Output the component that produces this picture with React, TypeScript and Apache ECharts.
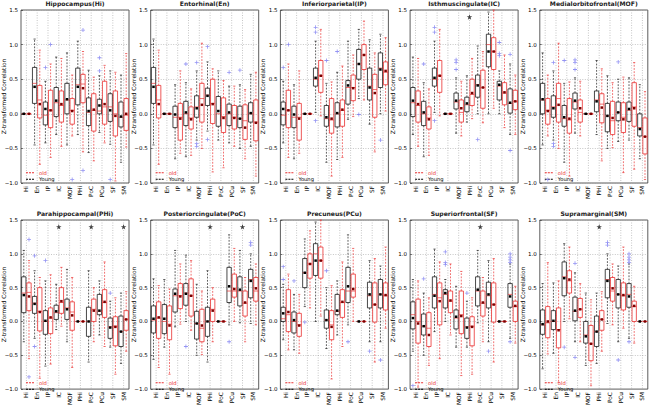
import React, { useEffect, useRef } from 'react';
import * as echarts from 'echarts';

// ---------------- data ----------------
const REGIONS = ['Hi', 'En', 'IP', 'IC', 'MOF', 'PHi', 'PoC', 'PCu', 'SF', 'SM'];
const TITLES = [
  'Hippocampus(Hi)', 'Entorhinal(En)', 'Inferiorparietal(IP)', 'Isthmuscingulate(IC)',
  'Medialorbitofrontal(MOF)', 'Parahippocampal(PHi)', 'Posteriorcingulate(PoC)',
  'Precuneus(PCu)', 'Superiorfrontal(SF)', 'Supramarginal(SM)',
];
const Y_TICK_LABELS = ['−1.0', '−0.5', '0.0', '0.5', '1.0', '1.5'];
const GROUP_NAMES = ['Young', 'old'];

// Upper-triangle pair statistics: [lowWhisker, q1, median, q3, highWhisker, mean]
// Row X lists X versus every region after it in REGIONS.
const HI_YOUNG = [
  [-0.45, 0.15, 0.44, 0.67, 1.08, 0.39], [-0.42, -0.16, -0.02, 0.17, 0.47, 0.07],
  [-0.3, -0.04, 0.16, 0.38, 0.82, 0.19], [-0.45, 0.0, 0.2, 0.44, 0.88, 0.21],
  [-0.3, 0.13, 0.42, 0.66, 1.05, 0.39], [-0.56, -0.17, 0.02, 0.23, 0.63, 0.04],
  [-0.27, 0.0, 0.04, 0.21, 0.55, 0.12], [-0.44, -0.11, 0.1, 0.29, 0.62, 0.05],
  [-0.7, -0.19, -0.05, 0.17, 0.56, -0.04],
];
const HI_OLD = [
  [-0.73, -0.06, 0.2, 0.41, 0.92, 0.14], [-0.63, -0.2, 0.05, 0.34, 0.72, 0.05],
  [-0.47, -0.12, 0.12, 0.33, 0.8, 0.14], [-0.32, -0.15, 0.05, 0.22, 0.56, 0.04],
  [-0.55, 0.16, 0.43, 0.57, 0.9, 0.37], [-0.68, -0.25, 0.05, 0.29, 0.53, 0.06],
  [-0.42, -0.15, 0.1, 0.47, 0.7, 0.14], [-0.97, -0.32, 0.0, 0.33, 0.6, -0.03],
  [-0.48, -0.24, -0.02, 0.22, 0.87, 0.0],
];
const EN_YOUNG = [
  [-0.65, -0.2, -0.05, 0.11, 0.42, -0.01], [-0.62, -0.17, 0.0, 0.18, 0.45, 0.02],
  [-0.38, -0.05, 0.1, 0.26, 0.62, 0.08], [-0.25, 0.12, 0.27, 0.37, 0.75, 0.26],
  [-0.38, -0.18, 0.0, 0.25, 0.62, 0.04], [-0.42, -0.17, 0.0, 0.14, 0.4, 0.02],
  [-0.5, -0.2, -0.07, 0.11, 0.42, -0.07], [-0.47, -0.12, 0.0, 0.16, 0.57, 0.01],
];
const EN_OLD = [
  [-0.57, -0.38, -0.05, 0.15, 0.62, -0.07], [-0.6, -0.22, -0.06, 0.1, 0.36, -0.08],
  [-0.5, -0.12, 0.22, 0.44, 1.02, 0.13], [-0.84, -0.14, 0.15, 0.5, 0.65, 0.14],
  [-0.78, -0.27, -0.04, 0.23, 0.48, -0.06], [-0.47, -0.22, -0.05, 0.12, 0.4, -0.06],
  [-0.65, -0.37, -0.1, 0.13, 0.35, -0.2], [-0.9, -0.39, -0.12, 0.2, 0.6, -0.13],
];
const IP_YOUNG = [
  [0.02, 0.4, 0.5, 0.66, 1.05, 0.52], [-0.7, -0.18, -0.07, 0.12, 0.44, -0.05],
  [-0.66, -0.19, 0.0, 0.16, 0.6, 0.01], [-0.08, 0.14, 0.38, 0.48, 1.05, 0.41],
  [0.22, 0.5, 0.72, 0.93, 1.22, 0.72], [-0.15, 0.2, 0.4, 0.66, 1.07, 0.38],
  [0.0, 0.38, 0.66, 0.88, 1.15, 0.64],
];
const IP_OLD = [
  [-0.03, 0.31, 0.55, 0.77, 1.22, 0.55], [-0.9, -0.28, -0.09, 0.22, 0.46, -0.07],
  [-0.63, -0.18, 0.05, 0.2, 0.69, 0.06], [-0.04, 0.19, 0.38, 0.56, 0.85, 0.37],
  [0.2, 0.64, 0.85, 1.0, 1.34, 0.85], [-0.55, -0.05, 0.35, 0.57, 0.88, 0.3],
  [0.04, 0.42, 0.6, 0.75, 1.1, 0.62],
];
const IC_YOUNG = [
  [-0.28, 0.07, 0.17, 0.3, 0.52, 0.19], [-0.12, 0.03, 0.13, 0.24, 0.55, 0.15],
  [0.0, 0.24, 0.42, 0.56, 0.98, 0.41], [0.0, 0.68, 1.0, 1.15, 1.47, 0.9],
  [0.0, 0.2, 0.4, 0.47, 0.62, 0.42], [-0.3, 0.01, 0.15, 0.36, 0.72, 0.16],
];
const IC_OLD = [
  [-0.32, -0.12, 0.02, 0.2, 0.47, 0.08], [-0.07, 0.12, 0.28, 0.5, 0.8, 0.3],
  [-0.13, 0.08, 0.38, 0.63, 0.9, 0.38], [0.08, 0.64, 0.9, 1.1, 1.5, 0.9],
  [-0.2, 0.13, 0.3, 0.45, 0.85, 0.31], [-0.3, 0.06, 0.18, 0.34, 0.56, 0.18],
];
const MOF_YOUNG = [
  [-0.3, 0.03, 0.2, 0.33, 0.77, 0.18], [-0.5, -0.26, -0.03, 0.15, 0.55, -0.03],
  [-0.4, -0.1, 0.02, 0.17, 0.5, 0.02], [-0.38, -0.11, 0.05, 0.17, 0.52, 0.07],
  [-0.65, -0.32, -0.2, 0.0, 0.42, -0.22],
];
const MOF_OLD = [
  [-0.68, -0.13, 0.14, 0.29, 0.65, 0.09], [-0.49, -0.3, -0.1, 0.18, 0.45, -0.06],
  [-0.85, -0.27, -0.05, 0.16, 0.53, -0.08], [-0.8, -0.18, 0.1, 0.45, 0.74, 0.08],
  [-0.95, -0.58, -0.33, -0.06, 0.32, -0.33],
];
const PHI_YOUNG = [
  [-0.6, -0.22, 0.0, 0.21, 0.75, 0.0], [-0.2, 0.1, 0.15, 0.4, 0.6, 0.16],
  [-0.38, -0.25, -0.08, 0.05, 0.3, -0.09], [-0.62, -0.37, -0.15, 0.08, 0.42, -0.15],
];
const PHI_OLD = [
  [-0.3, 0.0, 0.18, 0.33, 0.5, 0.16], [-0.37, 0.06, 0.28, 0.47, 0.88, 0.29],
  [-0.78, -0.36, -0.07, 0.07, 0.35, -0.08], [-0.44, -0.13, 0.03, 0.16, 0.44, 0.03],
];
const POC_YOUNG = [
  [-0.05, 0.28, 0.45, 0.8, 1.28, 0.52], [-0.02, 0.23, 0.45, 0.66, 1.05, 0.47],
  [-0.03, 0.35, 0.62, 0.77, 1.0, 0.6],
];
const POC_OLD = [
  [0.0, 0.36, 0.45, 0.7, 1.08, 0.48], [-0.3, 0.08, 0.27, 0.45, 0.65, 0.28],
  [-0.05, 0.3, 0.45, 0.65, 0.85, 0.49],
];
const PCU_YOUNG = [[-0.3, 0.2, 0.38, 0.58, 0.9, 0.4], [-0.3, 0.2, 0.4, 0.62, 0.82, 0.4]];
const PCU_OLD = [[-0.6, -0.01, 0.25, 0.57, 0.93, 0.25], [-0.1, 0.17, 0.38, 0.57, 1.1, 0.39]];
const SF_YOUNG = [[-0.25, 0.21, 0.4, 0.56, 0.85, 0.37]];
const SF_OLD = [[-0.32, 0.0, 0.22, 0.3, 0.52, 0.23]];

// Fliers: [regionA, regionB, value]
const OUTLIERS_YOUNG: [string, string, number][] = [
  ['Hi', 'IP', 0.67], ['Hi', 'PCu', 0.81], ['Hi', 'PCu', 0.62], ['Hi', 'SF', -0.95],
  ['En', 'IC', 0.72], ['En', 'MOF', 0.74], ['En', 'MOF', -0.43], ['En', 'MOF', -0.47],
  ['En', 'PHi', 0.97], ['En', 'PHi', -0.37], ['En', 'PCu', 0.6], ['En', 'SF', 0.63],
  ['IP', 'IC', 1.25], ['IP', 'IC', 1.18], ['IP', 'IC', -0.1], ['IP', 'MOF', 0.77],
  ['IP', 'PHi', 0.9], ['IP', 'PCu', -0.01], ['IP', 'SM', -0.38],
  ['IC', 'MOF', 0.78], ['IC', 'MOF', 0.74], ['IC', 'MOF', 0.64], ['IC', 'PoC', -0.37],
  ['IC', 'SF', 1.03], ['IC', 'SF', 0.87], ['IC', 'SF', 0.84], ['IC', 'SM', 0.86], ['IC', 'SM', -0.53],
  ['MOF', 'PCu', 0.75], ['PHi', 'SF', 0.42], ['PoC', 'PCu', -0.3], ['PoC', 'SM', 1.17],
  ['PoC', 'SM', 1.13], ['PCu', 'SF', -0.44], ['PCu', 'SM', -0.57],
  ['SF', 'SM', 1.0], ['SF', 'SM', 0.95], ['SF', 'SM', 0.91], ['SF', 'SM', 0.87], ['SF', 'SM', -0.3],
];
const OUTLIERS_OLD: [string, string, number][] = [
  ['Hi', 'IP', 1.0], ['Hi', 'PHi', 1.21], ['Hi', 'PHi', -0.82], ['Hi', 'MOF', -0.95],
];
// Pairs marked with a significance star
const STAR_PAIRS: [string, string][] = [['IC', 'PHi'], ['PHi', 'PoC'], ['PHi', 'SM'], ['PoC', 'SF']];
const STAR_LEVEL = 1.4;

// ---------------- helpers ----------------
const ROWS_YOUNG = [HI_YOUNG, EN_YOUNG, IP_YOUNG, IC_YOUNG, MOF_YOUNG, PHI_YOUNG, POC_YOUNG, PCU_YOUNG, SF_YOUNG];
const ROWS_OLD = [HI_OLD, EN_OLD, IP_OLD, IC_OLD, MOF_OLD, PHI_OLD, POC_OLD, PCU_OLD, SF_OLD];

function pairStats(rows: number[][][], a: number, b: number): number[] {
  if (a === b) return [0, 0, 0, 0, 0, 0];
  const i = Math.min(a, b);
  const j = Math.max(a, b);
  return rows[i][j - i - 1];
}

function otherIndex(p: number, a: string, b: string): number {
  const name = REGIONS[p];
  if (a === name) return REGIONS.indexOf(b);
  if (b === name) return REGIONS.indexOf(a);
  return -1;
}

const FONT = 'DejaVu Sans';
const RED = '#ea3030';
const BLACK = '#000000';
const BOX_BLACK = '#1a1a1a';
const FLIER = '#7878f0';
const GRID_COLOR = '#a0a0a0';
const PLUS = 'path://M4,0H6V4H10V6H6V10H4V6H0V4H4Z';
const STAR = 'path://M50,0L61,35L98,35L68,57L79,91L50,70L21,91L32,57L2,35L39,35Z';
const DASH_ICON = 'path://M0,0H2V1H0ZM3,0H5V1H3ZM6,0H8V1H6Z';

const GRID_LEFT0 = 21;
const COL_STEP = 129.7;
const GRID_W = 108;
const GRID_H = 173;
const ROW_TOPS = [10, 220];
const OFFSET_FRAC = 0.24;
const HALF_BOX_FRAC = 0.2;

function boxRenderer(side: number, color: string, meanColor: string) {
  return (params: any, api: any) => {
    const cat = api.value(0);
    const vals = [1, 2, 3, 4, 5, 6].map((k) => api.value(k));
    const band = api.size([1, 0])[0];
    const base = api.coord([cat, 0]);
    const cx = base[0] + side * band * OFFSET_FRAC;
    const hw = band * HALF_BOX_FRAC;
    const ys = vals.map((v: number) => api.coord([cat, v])[1]);
    const [yLow, yQ1, yMed, yQ3, yHigh, yMean] = ys;
    const solid = { stroke: color, lineWidth: 0.7, fill: null };
    const dashed = { stroke: color, lineWidth: 0.7, lineDash: [1.8, 1.4], fill: null };
    return {
      type: 'group',
      children: [
        { type: 'line', shape: { x1: cx, y1: yQ1, x2: cx, y2: yLow }, style: dashed },
        { type: 'line', shape: { x1: cx, y1: yQ3, x2: cx, y2: yHigh }, style: dashed },
        { type: 'line', shape: { x1: cx - hw * 0.5, y1: yLow, x2: cx + hw * 0.5, y2: yLow }, style: solid },
        { type: 'line', shape: { x1: cx - hw * 0.5, y1: yHigh, x2: cx + hw * 0.5, y2: yHigh }, style: solid },
        {
          type: 'rect',
          shape: { x: cx - hw, y: yQ3, width: 2 * hw, height: Math.max(yQ1 - yQ3, 0) },
          style: { stroke: color, lineWidth: 0.8, fill: 'rgba(255,255,255,0)' },
        },
        { type: 'line', shape: { x1: cx - hw, y1: yMed, x2: cx + hw, y2: yMed }, style: { stroke: RED, lineWidth: 0.7 } },
        { type: 'rect', shape: { x: cx - 1.25, y: yMean - 1.25, width: 2.5, height: 2.5 }, style: { fill: meanColor } },
      ],
    };
  };
}

function gridLineRenderer(params: any, api: any) {
  const cat = api.value(0);
  const top = api.coord([cat, api.value(2)]);
  const bot = api.coord([cat, api.value(1)]);
  return {
    type: 'line',
    shape: { x1: top[0], y1: top[1], x2: bot[0], y2: bot[1] },
    style: { stroke: GRID_COLOR, lineWidth: 0.6, lineDash: [1, 1.5] },
  };
}

function buildOption() {
  const titles: any[] = [];
  const legends: any[] = [];
  const grids: any[] = [];
  const xAxes: any[] = [];
  const yAxes: any[] = [];
  const series: any[] = [];
  const flierOffset = (GRID_W / REGIONS.length) * OFFSET_FRAC;

  REGIONS.forEach((region, p) => {
    const row = Math.floor(p / 5);
    const col = p % 5;
    const left = GRID_LEFT0 + col * COL_STEP;
    const top = ROW_TOPS[row];

    titles.push({
      text: TITLES[p],
      left: left + GRID_W / 2,
      top: top - 10,
      textAlign: 'center',
      padding: 0,
      textStyle: { fontFamily: FONT, fontSize: 6.1, fontWeight: 'bold', color: '#222' },
    });
    legends.push({
      left: left + 5,
      top: top + 159.5,
      orient: 'vertical',
      padding: 0,
      itemGap: 0,
      itemWidth: 8,
      itemHeight: 1,
      selectedMode: false,
      textStyle: { fontFamily: FONT, fontSize: 5.2, lineHeight: 6.5, color: BLACK },
      data: [
        { name: 'old', icon: DASH_ICON, itemStyle: { color: RED, borderWidth: 0 }, textStyle: { color: RED } },
        { name: 'Young', icon: DASH_ICON, itemStyle: { color: BLACK, borderWidth: 0 }, textStyle: { color: BLACK } },
      ],
    });
    grids.push({ left, top, width: GRID_W, height: GRID_H, show: true, borderColor: '#333', borderWidth: 0.8, backgroundColor: 'transparent' });
    xAxes.push({
      type: 'category',
      gridIndex: p,
      data: REGIONS,
      boundaryGap: true,
      axisLine: { show: false },
      axisTick: { show: false },
      splitLine: { show: false },
      axisLabel: { interval: 0, rotate: 90, fontSize: 5.8, fontFamily: FONT, color: BLACK, margin: 3 },
    });
    yAxes.push({
      type: 'value',
      gridIndex: p,
      min: -1,
      max: 1.5,
      interval: 0.5,
      name: 'Z-transformed Correlation',
      nameLocation: 'middle',
      nameGap: 14,
      nameMoveOverlap: false,
      nameTextStyle: { fontSize: 5.8, fontFamily: FONT, color: BLACK },
      axisLine: { show: false },
      axisTick: { show: true, inside: true, length: 2, lineStyle: { color: '#222', width: 0.6 } },
      splitLine: { show: true, lineStyle: { color: GRID_COLOR, width: 0.6, type: [1, 1.5] } },
      axisLabel: {
        fontSize: 5.5,
        fontFamily: FONT,
        color: BLACK,
        margin: 3,
        formatter: (v: number) => Y_TICK_LABELS[Math.round((v + 1) / 0.5)] ?? '',
      },
    });

    // vertical grid lines at category centres
    series.push({
      type: 'custom',
      name: 'vgrid' + p,
      xAxisIndex: p,
      yAxisIndex: p,
      silent: true,
      z: 1,
      renderItem: gridLineRenderer,
      encode: { x: 0, y: [1, 2] },
      data: REGIONS.map((_, i) => [i, -1, 1.5]),
    });

    [ROWS_YOUNG, ROWS_OLD].forEach((rows, g) => {
      const side = g === 0 ? -1 : 1;
      const color = g === 0 ? BOX_BLACK : RED;
      const meanColor = g === 0 ? BLACK : '#7a0000';
      series.push({
        type: 'custom',
        name: GROUP_NAMES[g],
        xAxisIndex: p,
        yAxisIndex: p,
        z: 3,
        itemStyle: { color },
        renderItem: boxRenderer(side, color, meanColor),
        encode: { x: 0, y: [1, 2, 3, 4, 5, 6] },
        data: REGIONS.map((_, q) => [q, ...pairStats(rows, p, q)]),
      });
    });

    [OUTLIERS_YOUNG, OUTLIERS_OLD].forEach((list, g) => {
      const pts = list
        .map(([a, b, v]) => [otherIndex(p, a, b), v])
        .filter((d) => d[0] >= 0);
      series.push({
        type: 'scatter',
        name: 'fliers' + g + '_' + p,
        xAxisIndex: p,
        yAxisIndex: p,
        z: 4,
        symbol: PLUS,
        symbolSize: 4,
        symbolOffset: [(g === 0 ? -1 : 1) * flierOffset, 0],
        itemStyle: { color: FLIER },
        silent: true,
        data: pts,
      });
    });

    const stars = STAR_PAIRS.map(([a, b]) => otherIndex(p, a, b)).filter((i) => i >= 0);
    if (stars.length) {
      series.push({
        type: 'scatter',
        name: 'stars' + p,
        xAxisIndex: p,
        yAxisIndex: p,
        z: 4,
        symbol: STAR,
        symbolSize: 5.5,
        itemStyle: { color: '#111' },
        silent: true,
        data: stars.map((i) => [i, STAR_LEVEL]),
      });
    }
  });

  return {
    animation: false,
    backgroundColor: '#ffffff',
    textStyle: { fontFamily: FONT },
    title: titles,
    legend: legends,
    grid: grids,
    xAxis: xAxes,
    yAxis: yAxes,
    series,
  };
}

export default function App() {
  const ref = useRef<HTMLDivElement>(null);
  useEffect(() => {
    document.body.style.margin = '0';
    if (!ref.current) return;
    const chart = echarts.init(ref.current, undefined, { renderer: 'svg' });
    chart.setOption(buildOption() as any);
    return () => chart.dispose();
  }, []);
  return <div ref={ref} style={{ width: 649, height: 408 }} />;
}
